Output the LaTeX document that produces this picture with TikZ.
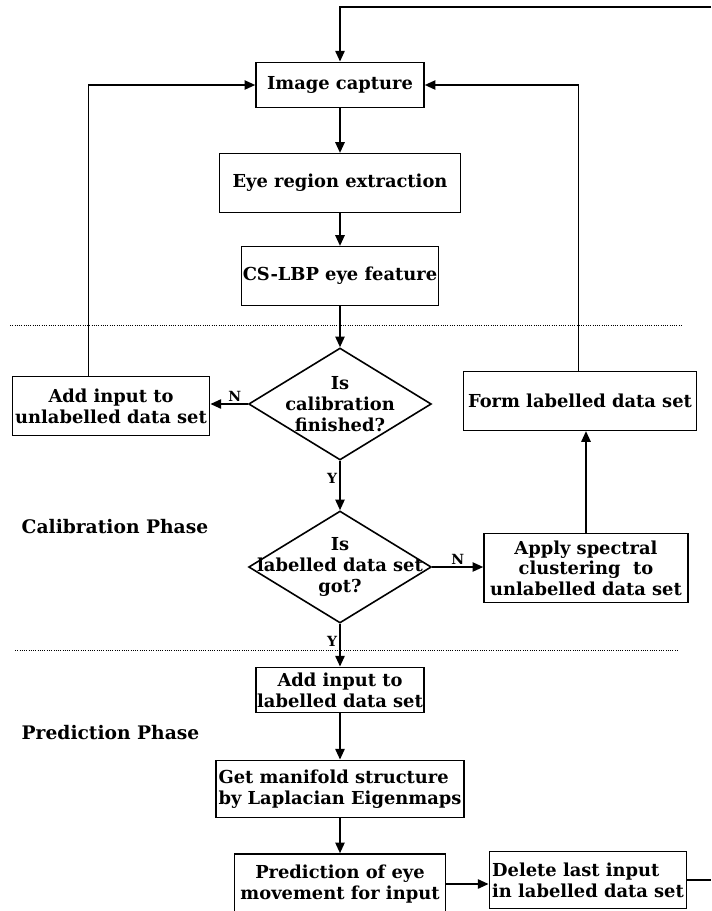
\documentclass[tikz,border=0pt]{standalone}
\usepackage{fontspec}
\setmainfont{DejaVu Serif}
\usetikzlibrary{positioning,arrows.meta,shapes.geometric}

\begin{document}
\begin{tikzpicture}[
    x=0.75pt, y=-0.75pt,
    every node/.style={font=\bfseries\fontsize{13.4}{15.5}\selectfont},
    box_node/.style={rectangle, draw, line width=1.2pt, align=center, inner sep=1pt},
    ask_node/.style={diamond, draw, line width=1.2pt, align=center, inner xsep=-60pt, inner ysep=-20pt, minimum width=137pt, minimum height=84pt},
    yn_label/.style={font=\bfseries\fontsize{10.5}{12}\selectfont, inner sep=1.5pt},
    phase_label/.style={anchor=west, font=\bfseries\fontsize{14}{16}\selectfont},
    flow/.style={draw, line width=1.2pt, -{Triangle[length=8pt,width=7pt]}},
    phase_line/.style={densely dotted, line width=0.7pt}
]
\path[use as bounding box, clip] (0,0) rectangle (711,911);

% Capture and features
\node[box_node, minimum width=126pt, minimum height=34pt] (cap) at (340,85) {Image capture};
\node[box_node, minimum width=181pt, minimum height=44pt] (eye) at (340,183) {Eye region extraction};
\node[box_node, minimum width=148pt, minimum height=44pt] (lbp) at (340,276) {CS-LBP eye feature};

% Calibration phase
\node[ask_node] (calib) at (340,404) {Is\\calibration\\finished?};
\node[box_node, minimum width=148pt, minimum height=44pt] (addu) at (111,406) {Add input to\\unlabelled data set};
\node[box_node, minimum width=175pt, minimum height=44pt] (form) at (580,401) {Form labelled data set};
\node[ask_node] (got) at (340,567) {Is\\labelled data set\\got?};
\node[box_node, minimum width=153pt, minimum height=52pt] (apply) at (586,568) {Apply spectral\\clustering\ \ to\\unlabelled data set};

% Prediction phase
\node[box_node, minimum width=126pt, minimum height=34pt] (addl) at (340,690) {Add input to\\labelled data set};
\node[box_node, minimum width=186pt, minimum height=43pt, align=left] (mani) at (340,789) {Get manifold structure\\by Laplacian Eigenmaps};
\node[box_node, minimum width=158pt, minimum height=45pt] (pred) at (340,884) {Prediction of eye\\movement for input};
\node[box_node, minimum width=148pt, minimum height=43pt, align=left] (del) at (588,880) {Delete last input\\in labelled data set};

% Phase labels and separators
\node[phase_label] (calph) at (17,527) {Calibration Phase};
\node[phase_label] (preph) at (17,733) {Prediction Phase};
\coordinate (sep1l) at (10,325);
\coordinate (sep1r) at (681,325);
\coordinate (sep2l) at (15,650);
\coordinate (sep2r) at (678,650);
\draw[phase_line] (sep1l) -- (sep1r);
\draw[phase_line] (sep2l) -- (sep2r);

% Main flow
\draw[flow] (cap) -- (eye);
\draw[flow] (eye) -- (lbp);
\draw[flow] (lbp) -- (calib);
\draw[flow] (calib.west) -- node[yn_label, above, pos=0.35] {N} (calib.west -| addu.east);
\draw[flow] (calib.south) -- node[yn_label, left, pos=0.35] {Y} (got.north);
\draw[flow] (got.east) -- node[yn_label, above, pos=0.5] {N} (got.east -| apply.west);
\draw[flow] (got.south) -- node[yn_label, left, pos=0.4] {Y} (addl.north);
\draw[flow] (apply.north) -- (apply.north |- form.south);
\draw[flow] (addl) -- (mani);
\draw[flow] (mani) -- (pred);
\draw[flow] (pred.east) -- (pred.east -| del.west);

% Loops back to capture
\draw[flow] ([xshift=-17pt]addu.north) |- (cap.west);
\draw[flow] ([xshift=-1pt]form.north) |- (cap.east);
\coordinate (loopin) at (711,7);
\coordinate (loopout) at (711,880);
\draw[line width=1.2pt] (del.east) -- (loopout);
\draw[flow] (loopin) -| (cap.north);

\end{tikzpicture}
\end{document}
